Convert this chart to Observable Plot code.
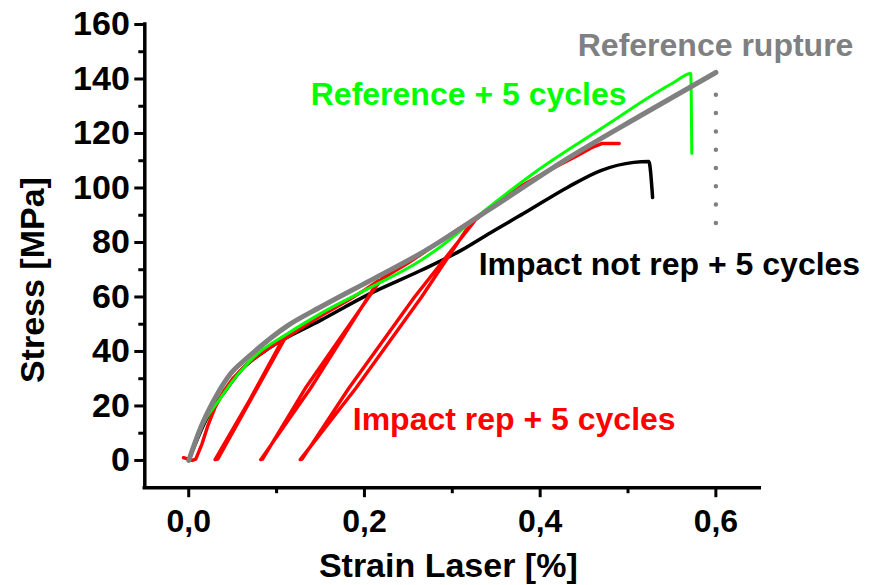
<!DOCTYPE html>
<html><head><meta charset="utf-8">
<script src="https://cdn.jsdelivr.net/npm/d3@7"></script>
<script src="https://cdn.jsdelivr.net/npm/@observablehq/plot@0.6"></script>
<style>html,body{margin:0;padding:0;background:#fff;}</style>
</head><body><div id="chart"></div>
<script>
// Reference rupture (gray)
const refStrain = [0, 0.0137, 0.0285, 0.0478, 0.0672, 0.1127, 0.150, 0.207, 0.264, 0.344, 0.431, 0.5145, 0.600];
const refStress = [0, 12.1, 22.0, 31.9, 37.8, 49.5, 56.3, 66.1, 76.0, 92.5, 110.8, 126.6, 142.4];
// Reference + 5 cycles (green)
const cycStrain = [0, 0.0137, 0.0364, 0.0558, 0.074, 0.1127, 0.150, 0.207, 0.264, 0.287, 0.340, 0.393, 0.480, 0.5145, 0.552, 0.5714, 0.5726];
const cycStress = [0, 11.7, 23.0, 31.5, 37.9, 46.6, 53.9, 63.5, 73.4, 78.5, 92.5, 105.5, 124.0, 131.4, 138.7, 142.0, 112.7];
// Impact not rep + 5 cycles (black)
const notRepStrain = [0, 0.0194, 0.042, 0.0592, 0.0933, 0.150, 0.207, 0.264, 0.310, 0.344, 0.381, 0.431, 0.469, 0.5065, 0.5236, 0.528];
const notRepStress = [0, 14.7, 25.7, 33.0, 41.6, 51.4, 61.3, 69.7, 77.1, 83.7, 90.6, 100.2, 106.4, 109.4, 109.7, 96.5];
// Impact rep + 5 cycles (red), with unload / reload loops
const repStrain = [-0.006, 0.004, 0.008, 0.015, 0.022, 0.030, 0.040, 0.050, 0.062, 0.075, 0.090, 0.107,
  0.069, 0.030, 0.033, 0.071, 0.109,
  0.125, 0.150, 0.180, 0.200, 0.216,
  0.1385, 0.082, 0.084, 0.1325, 0.219,
  0.250, 0.280, 0.305, 0.324,
  0.265, 0.190, 0.127, 0.129, 0.182, 0.257, 0.327,
  0.350, 0.380, 0.410, 0.440, 0.460, 0.470, 0.490];
const repStress = [1.0, 0, 0.5, 6, 13, 19.5, 25.5, 30, 34, 37.5, 41, 44.5,
  22, 0.3, 0.5, 22.5, 44.5,
  48, 53, 58.5, 62.5, 66,
  26.4, 0.3, 0.5, 26.4, 66.5,
  72.5, 79, 84.5, 88.5,
  60, 26.4, 0.3, 0.5, 26.4, 60, 88.5,
  94.5, 101, 106.5, 111.5, 115, 116.3, 116.3];
// Rupture marker (dotted)
const ruptureStrain = [0.6];
const ruptureStressFrom = [87];
const ruptureStressTo = [140];

// Ticks
const xMajor = [0, 0.2, 0.4, 0.6];
const xMinor = [0.1, 0.3, 0.5];
const yMajor = [0, 20, 40, 60, 80, 100, 120, 140, 160];
const yMinor = [10, 30, 50, 70, 90, 110, 130, 150];

// Annotations
const labelText = ["Reference rupture", "Reference + 5 cycles", "Impact not rep + 5 cycles", "Impact rep + 5 cycles"];
const labelStrain = [0.4428, 0.1389, 0.330, 0.1867];
const labelStress = [148.6, 130.3, 67.9, 11.0];
const labelColor = ["#808080", "#00ff00", "#000000", "#ff0000"];

const xTitle = "Strain Laser [%]";
const yTitle = "Stress [MPa]";

const pts = (xs, ys) => xs.map((x, i) => ({x, y: ys[i]}));
const fmt = d => d.toFixed(1).replace(".", ",");

const chart = Plot.plot({
  width: 873,
  height: 585,
  marginLeft: 144.3,
  marginRight: 113.7,
  marginTop: 24,
  marginBottom: 97.8,
  style: {fontFamily: "'Liberation Sans', Arial, sans-serif", fontWeight: "bold", background: "#fff", overflow: "visible"},
  x: {domain: [-0.05, 0.65]},
  y: {domain: [-10, 160]},
  marks: [
    // axes
    Plot.axisX(xMinor, {tickSize: 6, strokeWidth: 3, text: null, label: null}),
    Plot.axisX(xMajor, {tickSize: 10, tickPadding: 12, strokeWidth: 3, tickFormat: fmt, fontSize: 32, fontWeight: "bold", label: null}),
    Plot.axisY(yMinor, {tickSize: 6, strokeWidth: 3, text: null, label: null}),
    Plot.axisY(yMajor, {tickSize: 10, tickPadding: 5, strokeWidth: 3, tickFormat: d => String(d), fontSize: 34, fontWeight: "bold", label: null}),
    Plot.ruleX([-0.05], {y1: -10, y2: 160, strokeWidth: 3.5, strokeLinecap: "square"}),
    Plot.ruleY([-10], {x1: -0.05, x2: 0.65, strokeWidth: 3.5, strokeLinecap: "square"}),
    Plot.text([xTitle], {frameAnchor: "bottom", textAnchor: "middle", lineAnchor: "bottom", dx: -4, dy: 89, fontSize: 34, fontWeight: "bold", fill: "#000"}),
    Plot.text([yTitle], {frameAnchor: "left", textAnchor: "middle", rotate: -90, lineAnchor: "middle", dx: -112, dy: 24, fontSize: 34, fontWeight: "bold", fill: "#000"}),
    // data
    Plot.ruleX(ruptureStrain, {y1: ruptureStressFrom, y2: ruptureStressTo, stroke: "#808080", strokeWidth: 4.5, strokeDasharray: "0,18.3", strokeLinecap: "round"}),
    Plot.line(pts(notRepStrain, notRepStress), {x: "x", y: "y", stroke: "#000", strokeWidth: 3.5, curve: "monotone-x"}),
    Plot.line(pts(repStrain, repStress), {x: "x", y: "y", stroke: "#ff0000", strokeWidth: 3.4, curve: "linear", strokeLinejoin: "round"}),
    Plot.line(pts(cycStrain, cycStress), {x: "x", y: "y", stroke: "#00ff00", strokeWidth: 3, curve: "monotone-x"}),
    Plot.line(pts(refStrain, refStress), {x: "x", y: "y", stroke: "#808080", strokeWidth: 5, curve: "monotone-x"}),
    // annotations
    Plot.text(labelText, {x: labelStrain, y: labelStress, text: d => d, fill: labelColor, textAnchor: "start", lineAnchor: "bottom", fontSize: 32, fontWeight: "bold"})
  ]
});
document.getElementById("chart").appendChild(chart);
</script>
</body></html>
